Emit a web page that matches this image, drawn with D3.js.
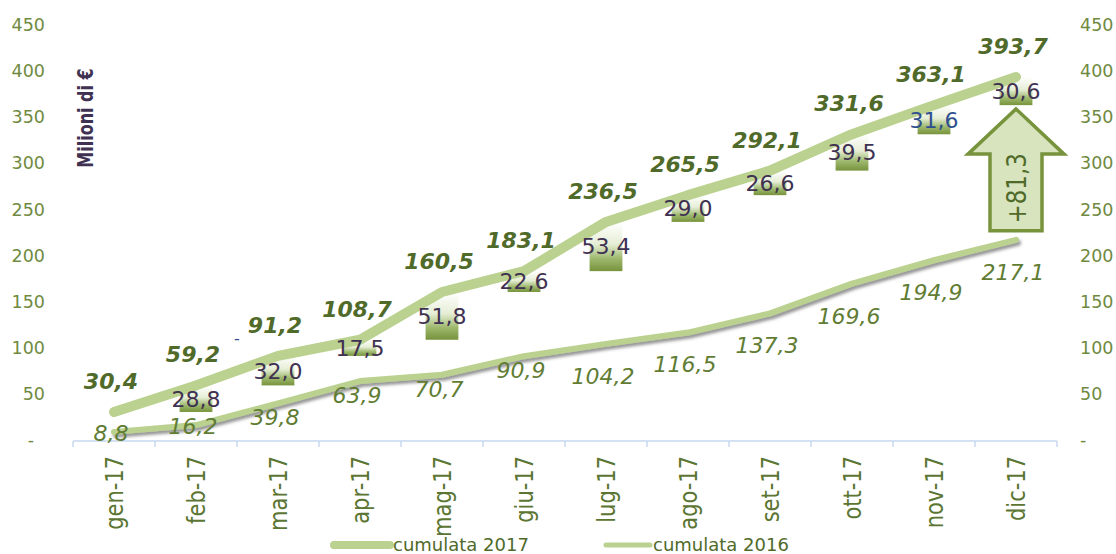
<!DOCTYPE html>
<html>
<head>
<meta charset="utf-8">
<script src="https://cdn.jsdelivr.net/npm/d3@7"></script>
<style>
  body { margin: 0; background: #fff; }
  text { font-family: "DejaVu Sans", sans-serif; }
</style>
</head>
<body>
<svg id="chart" width="1116" height="554"></svg>
<script>
// data
const months = ["gen-17", "feb-17", "mar-17", "apr-17", "mag-17", "giu-17",
  "lug-17", "ago-17", "set-17", "ott-17", "nov-17", "dic-17"];
const cumulata2017 = [30.4, 59.2, 91.2, 108.7, 160.5, 183.1, 236.5, 265.5, 292.1, 331.6, 363.1, 393.7];
const cumulata2016 = [8.8, 16.2, 39.8, 63.9, 70.7, 90.9, 104.2, 116.5, 137.3, 169.6, 194.9, 217.1];
const mensile2017 = [30.4, 28.8, 32.0, 17.5, 51.8, 22.6, 53.4, 29.0, 26.6, 39.5, 31.6, 30.6];
const yTicks = [0, 50, 100, 150, 200, 250, 300, 350, 400, 450];
const seriesNames = ["cumulata 2017", "cumulata 2016"];

const COLOR = {
  line: "#bad18f",
  dark: "#506a2a",
  olive: "#77933c",
  tick: "#6f8a40",
  purple: "#3f3151",
  blue: "#2f4f8f",
  axis: "#c6d9f0",
  arrowFill: "#d7e4bd"
};

const fmt = v => v.toFixed(1).replace(".", ",");

const svg = d3.select("#chart");
const x = d3.scaleBand().domain(months).range([73, 1057]);
const y = d3.scaleLinear().domain([0, 450]).range([440, 25]);
const cx = d => x(d) + x.bandwidth() / 2;

const defs = svg.append("defs");
const grad = defs.append("linearGradient")
  .attr("id", "barGrad").attr("x1", 0).attr("y1", 0).attr("x2", 0).attr("y2", 1);
grad.append("stop").attr("offset", "0%").attr("stop-color", "#ffffff");
grad.append("stop").attr("offset", "45%").attr("stop-color", "#e6eed6");
grad.append("stop").attr("offset", "75%").attr("stop-color", "#9db86c");
grad.append("stop").attr("offset", "100%").attr("stop-color", COLOR.olive);

const shadow = defs.append("filter").attr("id", "shadow")
  .attr("x", "-5%").attr("y", "-20%").attr("width", "110%").attr("height", "160%");
shadow.append("feDropShadow").attr("dx", 2).attr("dy", 3).attr("stdDeviation", 1.6)
  .attr("flood-color", "#444").attr("flood-opacity", 0.55);

// y axes
const left = svg.append("g").attr("transform", "translate(50,0)")
  .call(d3.axisLeft(y).tickValues(yTicks).tickSize(0).tickPadding(5)
    .tickFormat(d => d === 0 ? "-" : d));
const right = svg.append("g").attr("transform", "translate(1075,0)")
  .call(d3.axisRight(y).tickValues(yTicks).tickSize(0).tickPadding(5)
    .tickFormat(d => d === 0 ? "-" : d));
[left, right].forEach(a => {
  a.select(".domain").remove();
  a.selectAll("text").style("font-size", "17.5px").style("font-family", "DejaVu Sans")
    .attr("fill", COLOR.tick);
});
left.selectAll("text").filter(d => d === 0).attr("x", -16);

svg.append("text")
  .attr("transform", "translate(86,118) rotate(-90) scale(1,1.3)")
  .attr("text-anchor", "middle")
  .attr("dy", "0.36em")
  .attr("fill", COLOR.purple)
  .style("font-size", "16px").style("font-weight", "bold")
  .text("Milioni di €");

// x axis
svg.append("line")
  .attr("x1", x.range()[0]).attr("x2", x.range()[1])
  .attr("y1", y(0) + 1).attr("y2", y(0) + 1)
  .attr("stroke", COLOR.axis).attr("stroke-width", 1.5);
svg.selectAll(".xtick")
  .data(d3.range(months.length + 1))
  .enter().append("line")
  .attr("class", "xtick")
  .attr("x1", i => x.range()[0] + i * x.step())
  .attr("x2", i => x.range()[0] + i * x.step())
  .attr("y1", y(0) + 1).attr("y2", y(0) + 7)
  .attr("stroke", COLOR.axis).attr("stroke-width", 1.5);
svg.selectAll(".month")
  .data(months)
  .enter().append("text")
  .attr("class", "month")
  .attr("transform", d => "translate(" + cx(d) + ",456) rotate(-90) scale(1,1.2)")
  .attr("text-anchor", "end")
  .attr("dy", "0.35em")
  .attr("fill", "#5b7532")
  .style("font-size", "21px")
  .text(d => d);

// waterfall bars for the monthly amount
const barW = x.bandwidth() * 0.4;
const bars = months.map((m, i) => ({ m: m, v: mensile2017[i], top: cumulata2017[i] }))
  .filter((d, i) => i > 0);
svg.selectAll(".bar")
  .data(bars)
  .enter().append("rect")
  .attr("class", "bar")
  .attr("x", d => cx(d.m) - barW / 2)
  .attr("y", d => y(d.top))
  .attr("width", barW)
  .attr("height", d => y(d.top - d.v) - y(d.top))
  .attr("fill", "url(#barGrad)");

// lines
const line = vals => d3.line()
  .x((d, i) => cx(months[i]))
  .y(d => y(d))(vals);

svg.append("path")
  .attr("d", line(cumulata2016))
  .attr("fill", "none").attr("stroke", COLOR.line)
  .attr("stroke-width", 6).attr("stroke-linecap", "round").attr("stroke-linejoin", "round")
  .attr("filter", "url(#shadow)");
svg.append("path")
  .attr("d", line(cumulata2017))
  .attr("fill", "none").attr("stroke", COLOR.line)
  .attr("stroke-width", 10).attr("stroke-linecap", "round").attr("stroke-linejoin", "round");

// labels
svg.selectAll(".lab17")
  .data(cumulata2017)
  .enter().append("text")
  .attr("class", "lab17")
  .attr("x", (d, i) => cx(months[i]) - 3)
  .attr("y", d => y(d) - 31)
  .attr("dy", "0.36em")
  .attr("text-anchor", "middle")
  .attr("fill", COLOR.dark)
  .style("font-size", "22px").style("font-weight", "bold").style("font-style", "italic")
  .text(fmt);

svg.selectAll(".lab16")
  .data(cumulata2016)
  .enter().append("text")
  .attr("class", "lab16")
  .attr("x", (d, i) => cx(months[i]) - 3)
  .attr("y", d => y(d) + (d < 30 ? 1 : d < 100 ? 14 : 32))
  .attr("dy", "0.36em")
  .attr("text-anchor", "middle")
  .attr("fill", "#617c33")
  .style("font-size", "22px").style("font-style", "italic")
  .text(fmt);

svg.selectAll(".labm")
  .data(bars)
  .enter().append("text")
  .attr("class", "labm")
  .attr("x", d => cx(d.m))
  .attr("y", d => y(d.top - d.v / 2))
  .attr("dy", "0.36em")
  .attr("text-anchor", "middle")
  .attr("fill", d => d.m === "nov-17" ? COLOR.blue : COLOR.purple)
  .style("font-size", "22px")
  .text(d => fmt(d.v));

// stray dash left of the march label
svg.append("text")
  .attr("x", x("mar-17")).attr("y", y(110))
  .attr("dy", "0.36em").attr("text-anchor", "middle")
  .attr("fill", COLOR.blue).style("font-size", "16px")
  .text("-");

// growth arrow on december
const last = months.length - 1;
const ax = cx(months[last]);
const tipY = y(359), headY = y(310), baseY = y(227);
const shaft = 26, head = 48;
svg.append("path")
  .attr("d", "M" + ax + "," + tipY +
    "L" + (ax + head) + "," + headY +
    "L" + (ax + shaft) + "," + headY +
    "L" + (ax + shaft) + "," + baseY +
    "L" + (ax - shaft) + "," + baseY +
    "L" + (ax - shaft) + "," + headY +
    "L" + (ax - head) + "," + headY + "Z")
  .attr("fill", COLOR.arrowFill).attr("stroke", COLOR.olive)
  .attr("stroke-width", 3.5).attr("stroke-linejoin", "miter");
const growth = (cumulata2017[last] / cumulata2016[last] - 1) * 100;
svg.append("text")
  .attr("transform", "translate(" + ax + "," + ((headY + baseY) / 2 - 4) + ") rotate(-90) scale(1,1.15)")
  .attr("text-anchor", "middle")
  .attr("dy", "0.36em")
  .attr("fill", COLOR.dark)
  .style("font-size", "23px")
  .text("+" + fmt(growth));

// legend
const legend = svg.append("g").attr("class", "legend");
const legendItems = [
  { name: seriesNames[0], x1: 334, x2: 390, w: 8 },
  { name: seriesNames[1], x1: 606, x2: 650, w: 5 }
];
legendItems.forEach(item => {
  legend.append("line")
    .attr("x1", item.x1).attr("x2", item.x2).attr("y1", 545).attr("y2", 545)
    .attr("stroke", COLOR.line).attr("stroke-width", item.w).attr("stroke-linecap", "round");
  legend.append("text")
    .attr("x", item.x2 + 3).attr("y", 545).attr("dy", "0.36em")
    .attr("fill", COLOR.dark).style("font-size", "18px")
    .text(item.name);
});
</script>
</body>
</html>
